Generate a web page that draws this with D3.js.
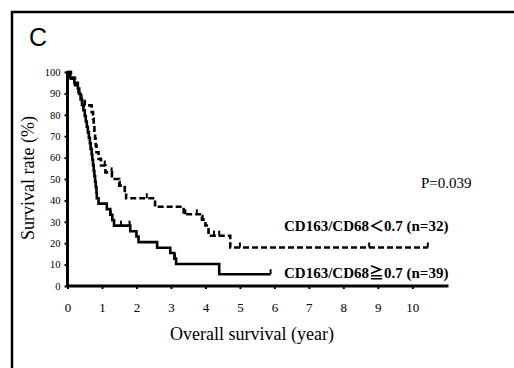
<!DOCTYPE html>
<html>
<head>
<meta charset="utf-8">
<script src="https://cdn.jsdelivr.net/npm/d3@7"></script>
<style>
  body { margin: 0; background: #fff; }
  svg { display: block; }
  text { font-family: "Liberation Serif", "Times New Roman", "Noto Sans CJK JP", serif; fill: #000; }
</style>
</head>
<body>
<svg id="chart" width="514" height="368"></svg>
<script>
// Kaplan-Meier steps: [year, survival %]
const lowGroup = [ // CD163/CD68 < 0.7 (n=32), dashed
  [0, 100], [0.1, 96.9], [0.22, 93.8], [0.32, 90.6], [0.4, 87.5], [0.5, 84.4],
  [0.7, 81.3], [0.74, 78.1], [0.76, 75], [0.78, 71.9], [0.8, 68.8], [0.82, 65.6],
  [0.84, 62.5], [0.9, 59.4], [0.97, 56.3], [1.1, 53.1], [1.29, 50], [1.5, 46.9],
  [1.66, 43.8], [1.7, 41], [2.54, 37], [3.37, 33.5], [3.9, 31], [4.0, 28.3],
  [4.09, 23.5], [4.72, 18], [10.45, 18]
];
const highGroup = [ // CD163/CD68 >= 0.7 (n=39), solid
  [0, 100], [0.08, 97.4], [0.2, 94.9], [0.3, 92.3], [0.34, 89.7], [0.38, 87.2],
  [0.42, 84.6], [0.46, 82.1], [0.5, 79.5], [0.53, 76.9], [0.56, 74.4], [0.59, 71.8],
  [0.62, 69.2], [0.65, 66.7], [0.67, 64.1], [0.7, 61.5], [0.72, 59.0], [0.74, 56.4],
  [0.76, 53.8], [0.78, 51.3], [0.8, 48.7], [0.82, 46.2], [0.84, 43.6], [0.85, 41.0],
  [0.9, 38.5], [1.14, 35.9], [1.24, 33.3], [1.3, 30.8], [1.35, 28.2], [1.82, 25.6],
  [2.0, 23.1], [2.06, 20.5], [2.6, 17.9], [2.98, 15.4], [3.1, 12.8], [3.15, 10.3],
  [4.4, 5.5], [5.89, 5.5]
];
// censored observations (year)
const lowCensor = [1.08, 1.28, 1.52, 1.67, 2.3, 3.42, 3.75, 3.92, 4.25, 4.4, 5.0, 8.75, 10.45];
const highCensor = [1.25, 1.55, 1.8, 3.12, 5.89];

const xTicks = [0, 1, 2, 3, 4, 5, 6, 7, 8, 9, 10];
const yTicks = [0, 10, 20, 30, 40, 50, 60, 70, 80, 90, 100];
const xMax = 11.05;
const serif = '"Liberation Serif", "Times New Roman", serif';

const svg = d3.select('#chart');

// outer frame, cut off at right and bottom
svg.append('rect')
  .attr('x', 12).attr('y', 12)
  .attr('width', 530).attr('height', 380)
  .attr('fill', 'none').attr('stroke', '#000').attr('stroke-width', 2.5);

svg.append('text')
  .attr('x', 29).attr('y', 46)
  .style('font-family', '"Liberation Sans", Arial, sans-serif')
  .style('font-size', '25px')
  .text('C');

const x = d3.scaleLinear().domain([0, 10]).range([67.5, 412.3]);
const y = d3.scaleLinear().domain([0, 100]).range([286, 72]);

// x axis
const gx = svg.append('g')
  .attr('transform', 'translate(0,286)')
  .call(d3.axisBottom(x).tickValues(xTicks).tickSize(3).tickPadding(14))
  .attr('font-family', serif)
  .attr('font-size', 13);
gx.select('.domain').remove();
gx.selectAll('.tick line').attr('stroke-width', 2);
svg.append('line')
  .attr('x1', x(0) - 1).attr('x2', x(xMax))
  .attr('y1', 286).attr('y2', 286)
  .attr('stroke', '#000').attr('stroke-width', 3);

// y axis
const gy = svg.append('g')
  .attr('transform', 'translate(67.5,0)')
  .call(d3.axisLeft(y).tickValues(yTicks).tickSize(3).tickPadding(4))
  .attr('font-family', serif)
  .attr('font-size', 10.5);
gy.select('.domain').remove();
gy.selectAll('.tick line').attr('stroke-width', 2);
svg.append('line')
  .attr('x1', 67.5).attr('x2', 67.5)
  .attr('y1', y(100) - 1).attr('y2', 287)
  .attr('stroke', '#000').attr('stroke-width', 3);

// axis titles
svg.append('text')
  .attr('x', 252).attr('y', 340)
  .attr('text-anchor', 'middle')
  .style('font-size', '18px')
  .text('Overall survival (year)');

svg.append('text')
  .attr('transform', 'translate(34,178) rotate(-90)')
  .attr('text-anchor', 'middle')
  .style('font-size', '18px')
  .text('Survival rate (%)');

// curves
const line = d3.line()
  .x(d => x(d[0]))
  .y(d => y(d[1]))
  .curve(d3.curveStepAfter);

svg.append('path')
  .datum(lowGroup)
  .attr('d', line)
  .attr('fill', 'none')
  .attr('stroke', '#000')
  .attr('stroke-width', 2.6)
  .attr('stroke-dasharray', '6,3');

svg.append('path')
  .datum(highGroup)
  .attr('d', line)
  .attr('fill', 'none')
  .attr('stroke', '#000')
  .attr('stroke-width', 2.6);

// survival value at time t for step data
function survAt(data, t) {
  let v = data[0][1];
  for (const d of data) { if (d[0] <= t) v = d[1]; }
  return v;
}

svg.append('g').selectAll('line')
  .data(lowCensor)
  .join('line')
  .attr('x1', d => x(d)).attr('x2', d => x(d))
  .attr('y1', d => y(survAt(lowGroup, d))).attr('y2', d => y(survAt(lowGroup, d)) - 5)
  .attr('stroke', '#000').attr('stroke-width', 2);

svg.append('g').selectAll('line')
  .data(highCensor)
  .join('line')
  .attr('x1', d => x(d)).attr('x2', d => x(d))
  .attr('y1', d => y(survAt(highGroup, d))).attr('y2', d => y(survAt(highGroup, d)) - 5)
  .attr('stroke', '#000').attr('stroke-width', 2);

// annotations
svg.append('text')
  .attr('x', 421).attr('y', 188)
  .style('font-size', '15px')
  .text('P=0.039');

svg.append('text')
  .attr('x', 284).attr('y', 231)
  .style('font-size', '15px').style('font-weight', 'bold')
  .text('CD163/CD68\uFF1C0.7 (n=32)');

svg.append('text')
  .attr('x', 284).attr('y', 278)
  .style('font-size', '15px').style('font-weight', 'bold')
  .text('CD163/CD68\u22670.7 (n=39)');
</script>
</body>
</html>
